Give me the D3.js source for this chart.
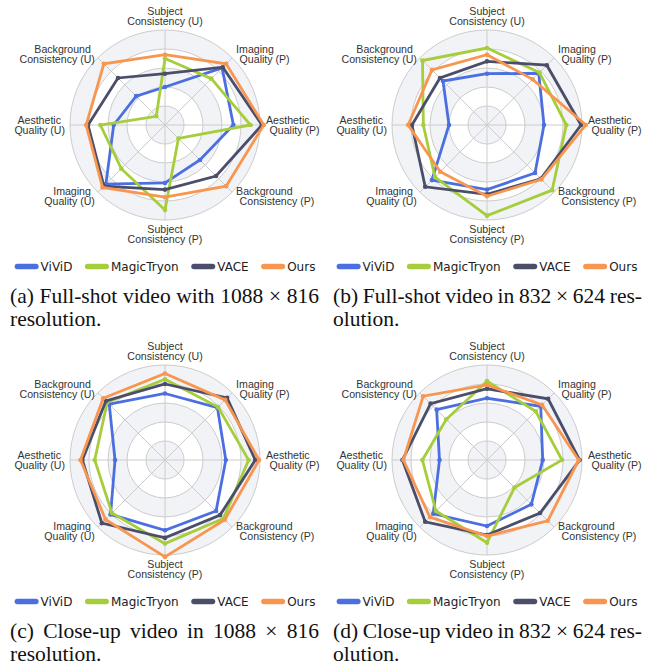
<!DOCTYPE html>
<html><head><meta charset="utf-8">
<script src="https://cdn.jsdelivr.net/npm/d3@7"></script>
<style>html,body{margin:0;padding:0;background:#fff} svg{display:block}</style>
</head><body>
<svg id="chart" width="658" height="666"></svg>
<script>
// ---------- data ----------
const axisLabels = [
  "Subject\nConsistency (U)", "Imaging\nQuality (P)", "Aesthetic\nQuality (P)",
  "Background\nConsistency (P)", "Subject\nConsistency (P)", "Imaging\nQuality (U)",
  "Aesthetic\nQuality (U)", "Background\nConsistency (U)"
];
const seriesNames = ["ViViD", "MagicTryon", "VACE", "Ours"];
const ringLevels = [20, 40, 60, 80, 100];

// (a) Full-shot 1088x816
const aViViD      = [40, 85, 72, 52, 61, 88, 54, 43];
const aMagicTryon = [70, 69, 90, 20, 89.5, 65, 68, 13];
const aVACE       = [54, 86, 102, 76, 68, 91, 81, 70];
const aOurs       = [74, 91, 104, 91, 76, 93, 83, 91];
// (b) Full-shot 832x624
const bViViD      = [54, 77, 60, 71.5, 68, 82, 40, 65.5];
const bMagicTryon = [81, 78, 83.5, 97, 95.4, 77.5, 67, 96];
const bVACE       = [67, 89, 99, 80, 73, 92, 79, 70];
const bOurs       = [74, 68, 104, 81, 75, 69.5, 83, 82];
// (c) Close-up 1088x816
const cViViD      = [70, 78, 64, 76, 74, 81, 52.6, 83];
const cMagicTryon = [85, 79, 88, 87, 88, 79, 74, 86];
const cVACE       = [80, 92.5, 95, 82, 82, 94, 87, 88];
const cOurs       = [91, 89.5, 99, 89, 102, 88.5, 89, 92];
// (d) Close-up 832x624
const dViViD      = [65, 80, 58.6, 66, 69.5, 80, 50, 75];
const dMagicTryon = [83, 72.5, 79, 41, 87, 76, 68, 60.6];
const dVACE       = [75, 91, 97.5, 79, 79, 92, 89, 84];
const dOurs       = [79, 82, 96.5, 90.5, 80, 85, 88, 95];

const captionA = [["(a)", "Full-shot", "video", "with", "1088", "\u00d7", "816"], ["resolution."]];
const captionB = [["(b)", "Full-shot", "video", "in", "832", "\u00d7", "624", "res-"], ["olution."]];
const captionC = [["(c)", "Close-up", "video", "in", "1088", "\u00d7", "816"], ["resolution."]];
const captionD = [["(d)", "Close-up", "video", "in", "832", "\u00d7", "624", "res-"], ["olution."]];

// ---------- style / layout ----------
const seriesColors = ["#4b6fe0", "#a6cd3c", "#4b4e6a", "#f8964f"];
const panels = [
  {cx: 165, cy: 125, capX: 10,  series: [aViViD, aMagicTryon, aVACE, aOurs], caption: captionA},
  {cx: 487, cy: 125, capX: 333, series: [bViViD, bMagicTryon, bVACE, bOurs], caption: captionB},
  {cx: 165, cy: 460, capX: 10,  series: [cViViD, cMagicTryon, cVACE, cOurs], caption: captionC},
  {cx: 487, cy: 460, capX: 333, series: [dViViD, dMagicTryon, dVACE, dOurs], caption: captionD}
];
const R = 95;
const shade = "#f2f3f7";
const gridColor = "#cccccc";
const labelFont = "'Liberation Sans', Arial, sans-serif";
const legendFont = "'DejaVu Sans', sans-serif";
const captionFont = "'Liberation Serif', 'Times New Roman', serif";
const capWidth = 309;

const svg = d3.select("#chart");
const r = d3.scaleLinear().domain([0, 100]).range([0, R]);
const angle = d3.scaleLinear().domain([0, axisLabels.length]).range([0, 2 * Math.PI]);
const arc = d3.arc();
const radarLine = d3.lineRadial()
  .angle((d, i) => angle(i))
  .radius(d => r(d))
  .curve(d3.curveLinearClosed);

panels.forEach(p => {
  const g = svg.append("g").attr("transform", `translate(${p.cx},${p.cy})`);

  // split areas
  ringLevels.forEach((lv, i) => {
    if (i % 2 === 0) {
      g.append("path")
        .attr("d", arc({innerRadius: i ? r(ringLevels[i - 1]) : 0, outerRadius: r(lv), startAngle: 0, endAngle: 2 * Math.PI}))
        .attr("fill", shade);
    }
  });
  // rings
  g.selectAll("circle.ring").data(ringLevels).enter().append("circle")
    .attr("class", "ring").attr("r", d => r(d))
    .attr("fill", "none").attr("stroke", gridColor).attr("stroke-width", 1);
  // spokes
  axisLabels.forEach((lab, i) => {
    const [x, y] = d3.pointRadial(angle(i), r(100));
    g.append("line").attr("x1", 0).attr("y1", 0).attr("x2", x).attr("y2", y)
      .attr("stroke", gridColor).attr("stroke-width", 1);
  });

  // axis names
  axisLabels.forEach((lab, i) => {
    const a = angle(i);
    const s = Math.sin(a), c = Math.cos(a);
    const [ax, ay] = d3.pointRadial(a, R + 7);
    const lines = lab.split("\n");
    const t = g.append("text")
      .attr("font-family", labelFont).attr("font-size", 10.6).attr("fill", "#333");
    lines.forEach((ln, k) => {
      let x = ax, y, anchor;
      if (Math.abs(s) < 0.01) {
        anchor = "middle";
        y = (c > 0 ? ay - 8 : ay + 6) + k * 9.8;
      } else {
        anchor = s > 0 ? "start" : "end";
        if (s > 0) x = ax + (k === 0 ? -1 : 2.5);
        else x = ax + (k === 0 ? -2 : 2);
        y = ay - 1 + 2 * c + k * 9.8;
      }
      t.append("tspan").attr("x", x).attr("y", y).attr("text-anchor", anchor).text(ln);
    });
  });

  // series
  p.series.forEach((vals, si) => {
    g.append("path").attr("d", radarLine(vals))
      .attr("fill", "none").attr("stroke", seriesColors[si])
      .attr("stroke-width", 2.8).attr("stroke-linejoin", "miter").attr("stroke-miterlimit", 4);
    g.selectAll(null).data(vals).enter().append("circle")
      .attr("cx", (d, i) => d3.pointRadial(angle(i), r(d))[0])
      .attr("cy", (d, i) => d3.pointRadial(angle(i), r(d))[1])
      .attr("r", 2.3).attr("fill", seriesColors[si]);
  });

  // legend
  const lg = svg.append("g");
  const ly = p.cy + 141.5;
  const sw = 24, sh = 5.5, gapT = 2, gapI = 12.5;
  const items = seriesNames.map((name, si) => {
    const ig = lg.append("g");
    ig.append("rect").attr("width", sw).attr("height", sh).attr("rx", 2.75).attr("y", -sh / 2)
      .attr("fill", seriesColors[si]);
    const tx = ig.append("text").attr("x", sw + gapT).attr("y", 0).attr("dy", "0.36em")
      .attr("font-family", legendFont).attr("font-size", 12).attr("fill", "#222").text(name);
    return {ig, w: sw + gapT + tx.node().getComputedTextLength()};
  });
  const total = d3.sum(items, d => d.w) + gapI * (items.length - 1);
  let xx = p.cx - total / 2;
  items.forEach(it => { it.ig.attr("transform", `translate(${xx},${ly})`); xx += it.w + gapI; });

  // caption
  const cy0 = p.cy + 178;
  const capG = svg.append("g");
  // line 1 justified
  const toks = p.caption[0].map(tk => capG.append("text").attr("font-family", captionFont)
    .attr("font-size", 21.5).attr("fill", "#111").attr("y", cy0).text(tk));
  const widths = toks.map(tk => tk.node().getComputedTextLength());
  const gap = (capWidth - d3.sum(widths)) / (toks.length - 1);
  let cx0 = p.capX;
  toks.forEach((tk, k) => { tk.attr("x", cx0); cx0 += widths[k] + gap; });
  capG.append("text").attr("font-family", captionFont).attr("font-size", 21.5).attr("fill", "#111")
    .attr("x", p.capX).attr("y", cy0 + 23).text(p.caption[1].join(" "));
});
</script>
</body></html>
